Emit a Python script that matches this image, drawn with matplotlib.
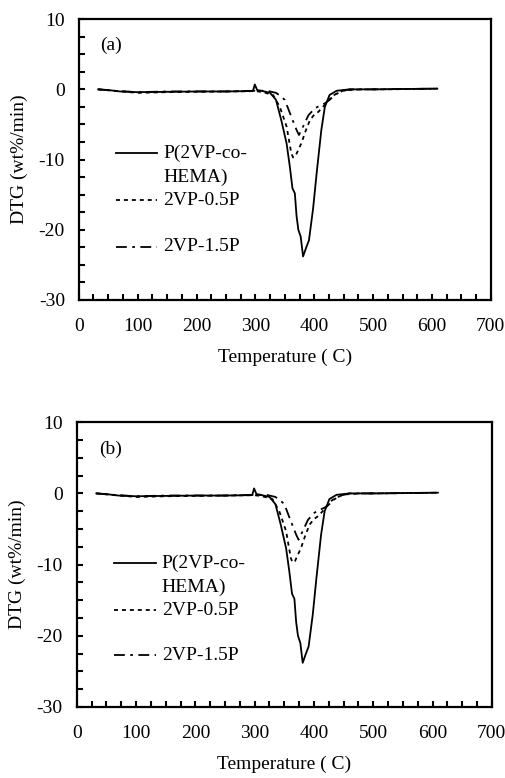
import matplotlib
matplotlib.use('Agg')
import matplotlib.pyplot as plt
from matplotlib.ticker import MultipleLocator

plt.rcParams['font.family'] = ['Liberation Serif', 'DejaVu Serif']
plt.rcParams['font.size'] = 14
plt.rcParams['axes.unicode_minus'] = False

# P(2VP-co-HEMA)
t_copoly = [33, 50, 70, 100, 150, 200, 250, 290, 296, 299, 303, 310, 325, 335,
            344, 353, 358.5, 363, 367, 370, 373, 377, 381, 386, 391, 398, 404,
            412, 418, 426, 438, 460, 500, 550, 609]
dtg_copoly = [0, -0.1, -0.3, -0.4, -0.35, -0.3, -0.3, -0.25, -0.2, 0.7, -0.1,
              -0.2, -0.5, -1.5, -4.4, -7.7, -11.0, -14.1, -14.8, -18.1, -20.0,
              -21.0, -23.8, -22.6, -21.5, -17.0, -12.0, -5.8, -2.5, -0.8, -0.2,
              0, 0, 0.05, 0.1]

# 2VP-0.5P
t_05p = [33, 60, 100, 150, 200, 250, 300, 313, 330, 341.5, 353, 361, 364, 368,
         373, 378, 385, 392.5, 400, 407, 418, 430, 438, 450, 480, 520, 609]
dtg_05p = [0, -0.2, -0.5, -0.4, -0.35, -0.3, -0.25, -0.4, -0.8, -2.5, -5.3,
           -9.1, -9.7, -9.5, -8.6, -7.7, -6.0, -4.4, -3.6, -3.2, -2.2, -1.0,
           -0.6, -0.15, 0, 0, 0.1]

# 2VP-1.5P
t_15p = [33, 60, 100, 150, 200, 250, 300, 320, 335, 342, 350, 361, 370, 374,
         381, 390, 401, 410, 418, 426, 435, 445, 460, 500, 609]
dtg_15p = [0, -0.2, -0.4, -0.3, -0.3, -0.3, -0.2, -0.2, -0.5, -0.9, -1.5, -3.9,
           -5.8, -6.5, -5.3, -3.7, -2.7, -2.3, -2.0, -1.5, -0.8, -0.3, 0, 0, 0.1]

series = [
    (t_copoly, dtg_copoly, 'P(2VP-co-', 'HEMA)', '-'),
    (t_05p, dtg_05p, '2VP-0.5P', None, (0, (2.2, 2.2))),
    (t_15p, dtg_15p, '2VP-1.5P', None, (0, (6, 3, 1.5, 3))),
]


def draw_panel(ax, tag, leg_y):
    for (t, d, lab, lab2, ls), y in zip(series, leg_y):
        ax.plot(t, d, color='black', lw=1.3, linestyle=ls)
        # hand-made legend, like the original figure
        ax.plot([0.09, 0.19], [y, y], transform=ax.transAxes,
                color='black', lw=1.3, linestyle=ls)
        ax.text(0.205, y, lab, transform=ax.transAxes, va='center', ha='left')
        if lab2:
            ax.text(0.205, y - 0.087, lab2, transform=ax.transAxes,
                    va='center', ha='left')
    ax.text(0.053, 0.905, tag, transform=ax.transAxes, va='center', ha='left')

    ax.set_xlim(0, 700)
    ax.set_ylim(-30, 10)
    ax.xaxis.set_major_locator(MultipleLocator(100))
    ax.xaxis.set_minor_locator(MultipleLocator(25))
    ax.yaxis.set_major_locator(MultipleLocator(10))
    ax.yaxis.set_minor_locator(MultipleLocator(2.5))
    ax.tick_params(which='both', direction='in', length=4.5, width=1.5,
                   top=False, right=False)
    ax.tick_params(axis='x', which='major', pad=13)
    ax.tick_params(axis='y', which='major', pad=10)
    for s in ax.spines.values():
        s.set_linewidth(1.6)
    ax.set_xlabel('Temperature ( C)', labelpad=10)
    ax.set_ylabel('DTG (wt%/min)', labelpad=8)


fig = plt.figure(figsize=(5.05, 7.78), dpi=100)
ax1 = fig.add_axes([0.156, 0.6144, 0.816, 0.361])
ax2 = fig.add_axes([0.152, 0.0913, 0.822, 0.366])

draw_panel(ax1, '(a)', [0.523, 0.356, 0.190])
draw_panel(ax2, '(b)', [0.506, 0.340, 0.182])

fig.savefig('out.png', dpi=100)
